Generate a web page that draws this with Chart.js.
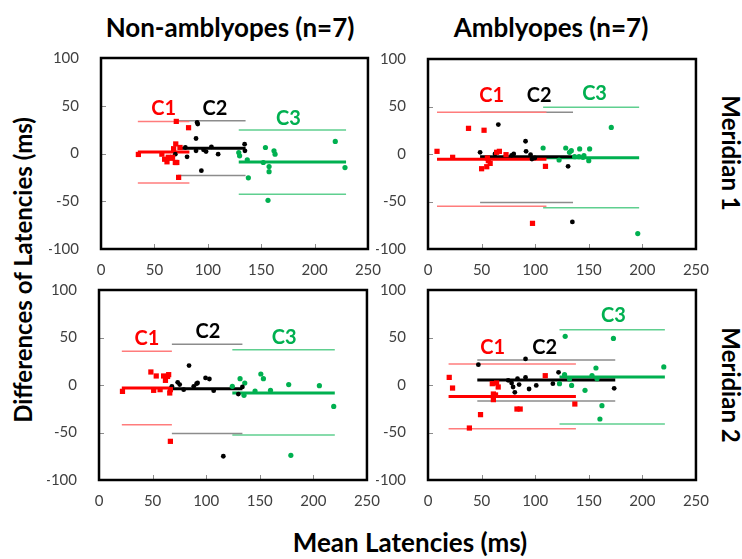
<!DOCTYPE html>
<html>
<head>
<meta charset="utf-8">
<script src="https://cdn.jsdelivr.net/npm/chart.js@4.4.0/dist/chart.umd.min.js"></script>
<style>
  body { margin: 0; background: #fff; width: 742px; height: 559px; overflow: hidden; font-family: Lato, "Open Sans", sans-serif; }
  canvas { position: absolute; }
  .t { position: absolute; font-weight: bold; color: #000; white-space: nowrap; transform: translate(-50%, -50%); }
  .rotL { transform: translate(-50%, -50%) rotate(-90deg); }
  .rotR { transform: translate(-50%, -50%) rotate(90deg); }
</style>
</head>
<body>
<div class="t" style="left:230px; top:27px; font-size:26px;">Non-amblyopes (n=7)</div>
<div class="t" style="left:551px; top:27px; font-size:26px;">Amblyopes (n=7)</div>
<div class="t rotL" style="left:22px; top:270px; font-size:24px;">Differences of Latencies (ms)</div>
<div class="t" style="left:410px; top:542px; font-size:26px;">Mean Latencies (ms)</div>
<div class="t rotR" style="left:731px; top:153px; font-size:24px;">Meridian 1</div>
<div class="t rotR" style="left:731px; top:385px; font-size:24px;">Meridian 2</div>

<canvas id="nonM1"></canvas>
<canvas id="ambM1"></canvas>
<canvas id="nonM2"></canvas>
<canvas id="ambM2"></canvas>

<script>
// axis ticks
const xTicks = [0, 50, 100, 150, 200, 250];
const yTicks = [-100, -50, 0, 50, 100];
const groups = ['C1', 'C2', 'C3'];

// ---- Non-amblyopes, meridian 1: [mean latency, difference]
const nonM1C1 = [[35,-1],[57,-0.7],[59.6,-6],[61.8,-8.7],[65.5,-5],[67,-4],[68,5],[70,10],[70.5,33.6],[69.6,-9.4],[71,-9.4],[72.7,-25],[74,6.3],[82,27],[63,-4]];
const nonM1C2 = [[90,32.5],[90.6,30.8],[89,15.7],[69.6,-0.7],[80.6,-3.5],[89,2.8],[96,3.8],[98.4,2],[103.4,7],[109.7,-0.7],[94,-18],[134.5,9.8],[134.8,2.8],[79,6.3]];
const nonM1C3 = [[129,1],[129.8,-2.4],[137,-6.6],[138,-25.5],[154,6.3],[152,-9.4],[157.4,-13.6],[157.4,-19],[156.4,-49],[162,2.8],[163,-0.7],[219.4,12.6],[228.5,-14.7]];
const nonM1Bias  = [1.7, 5.6, -9];
const nonM1Upper = [33.6, 34.3, 24.5];
const nonM1Lower = [-31, -23, -42.7];
const nonM1Span  = [[34.5, 82.8], [72, 135.4], [129, 229.5]];

// ---- Amblyopes, meridian 1
const ambM1C1 = [[8.4,2.8],[23,-3.5],[37.8,27],[52.3,25],[50,-15.5],[54.8,-13.4],[56.3,-7],[58,-9.9],[55.4,-4.2],[64,1.8],[66.6,2.8],[72.8,-0.7],[109.6,-13],[97.5,-73]];
const ambM1C2 = [[65.6,31],[48.6,1.8],[62.5,0],[80,0],[91,13.4],[91.5,2.8],[95.7,-0.7],[97,-5.3],[99.7,-4.2],[130.7,-13],[134.7,-71.5],[78,-1.4]];
const ambM1C3 = [[107.4,6.3],[122.3,-6.3],[128.5,6.3],[132,1.8],[133.7,3.5],[136.8,-2.8],[140.9,-2.8],[141.5,5.3],[144.6,-3.5],[145.5,-1.8],[150.8,5.3],[150,-7],[171,28],[195.7,-83.8]];
const ambM1Bias  = [-5.6, -2.8, -3.9];
const ambM1Upper = [44, 44, 49.3];
const ambM1Lower = [-55, -51, -56.7];
const ambM1Span  = [[8.4, 110.5], [48.6, 135.3], [107.4, 197]];

// ---- Non-amblyopes, meridian 2
const nonM2C1 = [[21.9,-6.7],[48.4,13.7],[53.4,9.5],[51,-5.6],[57,-4.9],[60.3,9.5],[62,4.9],[64,9],[65,10.9],[66,-8.4],[66.6,-4.9],[66.6,-59.3]];
const nonM2C2 = [[68,-1.4],[73.4,2.8],[75.3,0.4],[79,-4.9],[84,20.4],[88.4,-1.4],[91,1.4],[92,2.1],[99.4,7.4],[103,6.3],[107,-6],[116,-75],[130,-9.5],[133.8,-2]];
const nonM2C3 = [[124.4,-1.4],[131.6,6.7],[136,2.1],[135.3,-10.9],[145.6,-6.3],[151,11.6],[153.4,6.7],[160,-5.6],[177,0.4],[179,-74],[205.6,-0.7],[219,-22.5]];
const nonM2Bias  = [-3.2, -3.9, -8.4];
const nonM2Upper = [35.4, 43, 37];
const nonM2Lower = [-41.8, -51, -52.6];
const nonM2Span  = [[21.3, 68], [68, 133.8], [124.4, 220]];

// ---- Amblyopes, meridian 2
const ambM2C1 = [[19.8,8],[22.9,-3.2],[38.6,-45.3],[49,-31.2],[60,1.4],[61,-9.5],[61,-15.4],[63,-10.5],[64,2.1],[65.5,-2.1],[83,-25.3],[86,-25.3],[109.4,9.8],[137,-20]];
const ambM2C2 = [[47,21.4],[74.8,4.9],[78,2.1],[79.4,-2.1],[81,-7.7],[83.5,6.7],[85,0.4],[91,27.4],[91,8],[94.3,-4.2],[101,-0.4],[116.5,1.4],[121.8,13.3],[173.7,-3.5]];
const ambM2C3 = [[122.7,1.4],[127.4,10.9],[128,51.2],[132,6.3],[134,-0.4],[146.5,-5.6],[153,9.8],[156.7,17.9],[157.7,6.7],[162.3,-21.8],[160.4,-35.8],[173,49],[220,19]];
const ambM2Bias  = [-12, 5.3, 8.4];
const ambM2Upper = [22, 26.3, 58.2];
const ambM2Lower = [-46, -16.8, -41];
const ambM2Span  = [[19.2, 138], [46, 174.7], [122.7, 221]];

// colours per group: marker / mean line, limits of agreement
const markColor  = ['#ff0000', '#000000', '#00b050'];
const limitColor = ['#ff7c7c', '#8c8c8c', '#5fcf8f'];
const markStyle  = ['rect', 'circle', 'circle'];
const markRadius = [3.7, 2.4, 2.6];

function xy(pairs) { return pairs.map(p => ({ x: p[0], y: p[1] })); }
function seg(span, y) { return [{ x: span[0], y }, { x: span[1], y }]; }

// frame, inner ticks and C1/C2/C3 tags
const panelDecor = {
  id: 'panelDecor',
  afterDraw(chart) {
    const { ctx, chartArea: a, scales } = chart;
    ctx.save();
    ctx.strokeStyle = '#8c8c8c';
    ctx.lineWidth = 1;
    yTicks.slice(1, -1).forEach(v => {
      const py = Math.round(scales.y.getPixelForValue(v)) + 0.5;
      ctx.beginPath(); ctx.moveTo(a.left, py); ctx.lineTo(a.left + 5, py); ctx.stroke();
    });
    xTicks.slice(1, -1).forEach(v => {
      const px = Math.round(scales.x.getPixelForValue(v)) + 0.5;
      ctx.beginPath(); ctx.moveTo(px, a.bottom); ctx.lineTo(px, a.bottom - 5); ctx.stroke();
    });
    ctx.strokeStyle = '#000';
    ctx.lineWidth = 2.5;
    ctx.strokeRect(a.left, a.top, a.right - a.left, a.bottom - a.top);

    ctx.font = 'bold 20px Lato, sans-serif';
    ctx.textAlign = 'center';
    ctx.textBaseline = 'middle';
    chart.options.plugins.panelDecor.tags.forEach((t, i) => {
      ctx.fillStyle = markColor[i];
      ctx.fillText(groups[i], scales.x.getPixelForValue(t[0]), scales.y.getPixelForValue(t[1]));
    });
    ctx.restore();
  }
};

function buildChart(cv, pts, bias, upper, lower, span, tags, padL, padT, padR, padB) {
  const datasets = [];
  pts.forEach((p, i) => datasets.push({
    data: xy(p), pointStyle: markStyle[i], pointRadius: markRadius[i],
    backgroundColor: markColor[i], borderColor: markColor[i], borderWidth: 0, order: 1
  }));
  groups.forEach((g, i) => {
    datasets.push({ data: seg(span[i], bias[i]), showLine: true, borderColor: markColor[i], borderWidth: 3, pointRadius: 0, order: 2 });
    datasets.push({ data: seg(span[i], upper[i]), showLine: true, borderColor: limitColor[i], borderWidth: 1.5, pointRadius: 0, order: 3 });
    datasets.push({ data: seg(span[i], lower[i]), showLine: true, borderColor: limitColor[i], borderWidth: 1.5, pointRadius: 0, order: 3 });
  });

  const tickFont = { family: 'Lato, sans-serif', size: 15 };
  return new Chart(cv, {
    type: 'scatter',
    data: { datasets },
    options: {
      responsive: false, maintainAspectRatio: false, animation: false, events: [],
      layout: { padding: { top: padT, right: padR, left: 0, bottom: 0 } },
      plugins: { legend: { display: false }, tooltip: { enabled: false }, panelDecor: { tags } },
      scales: {
        x: {
          min: 0, max: 250,
          afterBuildTicks: s => { s.ticks = xTicks.map(v => ({ value: v })); },
          afterFit: s => { s.height = padB; },
          grid: { display: false }, border: { display: false },
          ticks: { color: '#404040', font: tickFont, padding: 4, maxRotation: 0 }
        },
        y: {
          min: -100, max: 100,
          afterBuildTicks: s => { s.ticks = yTicks.map(v => ({ value: v })); },
          afterFit: s => { s.width = padL; },
          grid: { display: false }, border: { display: false },
          ticks: { color: '#404040', font: tickFont, padding: 14 }
        }
      }
    },
    plugins: [panelDecor]
  });
}

// build once, measure the plot area, then size the canvas so the frame sits on box
function makePanel(id, box, pts, bias, upper, lower, span, tags) {
  const padL = 52, padT = 10, padR = 16, padB = 30;
  const cv = document.getElementById(id);
  cv.width = box.r - box.l + padL + padR;
  cv.height = box.b - box.t + padT + padB;
  let chart = buildChart(cv, pts, bias, upper, lower, span, tags, padL, padT, padR, padB);
  const a = chart.chartArea;
  const w = cv.width + (box.r - box.l) - (a.right - a.left);
  const h = cv.height + (box.b - box.t) - (a.bottom - a.top);
  const offL = a.left, offT = a.top;
  chart.destroy();
  cv.width = w; cv.height = h;
  cv.style.width = w + 'px'; cv.style.height = h + 'px';
  cv.style.left = (box.l - offL) + 'px';
  cv.style.top = (box.t - offT) + 'px';
  buildChart(cv, pts, bias, upper, lower, span, tags, padL, padT, padR, padB);
}

makePanel('nonM1', { l: 101, t: 58, r: 368, b: 249 }, [nonM1C1, nonM1C2, nonM1C3],
  nonM1Bias, nonM1Upper, nonM1Lower, nonM1Span, [[58.6, 47.5], [106.6, 47.5], [175.5, 36.7]]);
makePanel('ambM1', { l: 428, t: 59, r: 696, b: 249 }, [ambM1C1, ambM1C2, ambM1C3],
  ambM1Bias, ambM1Upper, ambM1Lower, ambM1Span, [[59.4, 61.6], [103.7, 62], [155.4, 63.4]]);
makePanel('nonM2', { l: 99, t: 290, r: 367, b: 480 }, [nonM2C1, nonM2C2, nonM2C3],
  nonM2Bias, nonM2Upper, nonM2Lower, nonM2Span, [[44.7, 48.4], [101.6, 56.5], [172.8, 50]]);
makePanel('ambM2', { l: 428, t: 290, r: 696, b: 480 }, [ambM2C1, ambM2C2, ambM2C3],
  ambM2Bias, ambM2Upper, ambM2Lower, ambM2Span, [[60.3, 39], [108.8, 39.6], [173, 73.3]]);
</script>
</body>
</html>
